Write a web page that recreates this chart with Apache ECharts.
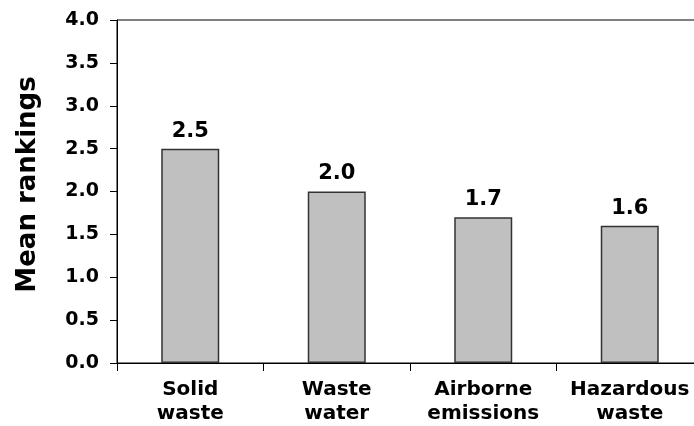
<!DOCTYPE html>
<html>
<head>
<meta charset="utf-8">
<script src="https://cdn.jsdelivr.net/npm/echarts@6/dist/echarts.min.js"></script>
<style>
  html, body { margin: 0; padding: 0; background: #fff; overflow: hidden; }
  /* the plot frame runs past the right edge of the window */
  #chart { width: 703px; height: 426px; }
</style>
</head>
<body>
<div id="chart"></div>
<script>
// Mean ranking of each waste type
const categories = ['Solid\nwaste', 'Waste\nwater', 'Airborne\nemissions', 'Hazardous\nwaste'];
const meanRankings = [2.5, 2.0, 1.7, 1.6];
const yTicks = { min: 0, max: 4, interval: 0.5 };

const FONT = 'DejaVu Sans';

const chart = echarts.init(document.getElementById('chart'), null, { renderer: 'canvas' });
chart.setOption({
  animation: false,
  backgroundColor: '#fff',
  grid: {
    left: 117, right: 0, top: 20, bottom: 62,
    show: true, borderColor: '#000', borderWidth: 1, backgroundColor: 'transparent'
  },
  xAxis: {
    type: 'category',
    data: categories,
    axisLine: { lineStyle: { color: '#000', width: 1 } },
    axisTick: { show: true, alignWithLabel: false, length: 8, lineStyle: { color: '#000' } },
    axisLabel: {
      color: '#000', fontFamily: FONT, fontWeight: 'bold', fontSize: 20,
      lineHeight: 24, margin: 15, interval: 0
    }
  },
  yAxis: {
    type: 'value',
    min: yTicks.min, max: yTicks.max, interval: yTicks.interval,
    name: 'Mean rankings',
    nameLocation: 'middle',
    nameGap: 76,
    nameTextStyle: {
      color: '#000', fontFamily: FONT, fontWeight: 'bold', fontSize: 26,
      padding: [0, 0, 0, 14]
    },
    axisLine: { show: true, lineStyle: { color: '#000', width: 1 } },
    axisTick: { show: true, length: 7, lineStyle: { color: '#000' } },
    splitLine: { show: false },
    axisLabel: {
      color: '#000', fontFamily: FONT, fontWeight: 'bold', fontSize: 19, margin: 18,
      formatter: v => v.toFixed(1)
    }
  },
  series: [{
    type: 'bar',
    data: meanRankings,
    barWidth: 58,
    itemStyle: { color: '#c0c0c0', borderColor: '#333', borderWidth: 1.5 },
    label: {
      show: true, position: 'top', distance: 7,
      color: '#000', fontFamily: FONT, fontWeight: 'bold', fontSize: 21,
      formatter: p => p.value.toFixed(1)
    }
  }]
});
</script>
</body>
</html>
